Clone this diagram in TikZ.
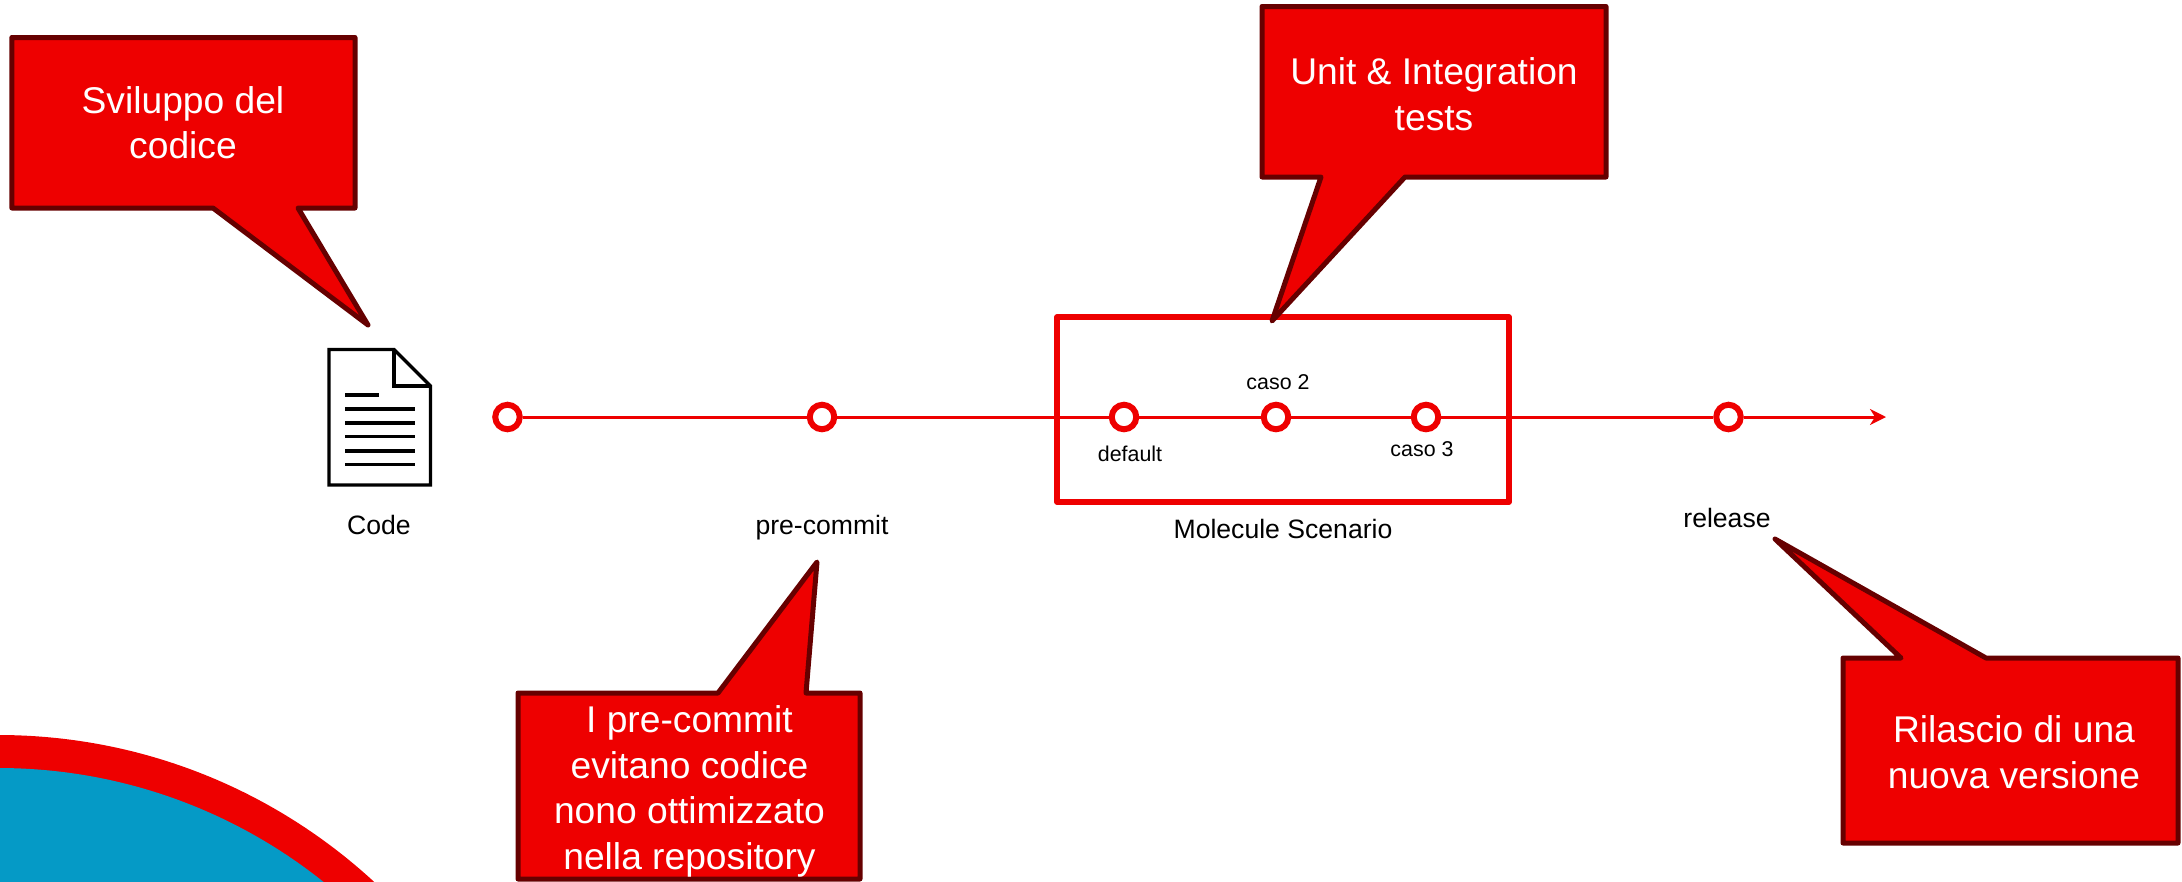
\documentclass[tikz,border=0pt]{standalone}
\usepackage{fontspec}
\setmainfont{Liberation Sans}
\usetikzlibrary{arrows.meta}
\definecolor{tred}{HTML}{EE0000}
\definecolor{tdark}{HTML}{660000}
\definecolor{tblue}{HTML}{059AC6}
\tikzset{
  x=1pt,y=-1pt,
  callout/.style={draw=tdark,fill=tred,line width=5pt,line join=round},
  calltext/.style={text=white,align=center,inner sep=0pt,font=\fontsize{37.2}{45.5}\selectfont},
  lbl/.style={text=black,inner sep=0pt,font=\fontsize{26.6}{30}\selectfont},
  slbl/.style={text=black,inner sep=0pt,font=\fontsize{21.4}{25}\selectfont},
  stage/.style={circle,draw=tred,fill=white,line width=6pt,minimum size=24.5pt,inner sep=0pt},
  tline/.style={draw=tred,line width=3pt},
  docline/.style={draw=black,line width=3.8pt},
  scenario/.style={rectangle,draw=tred,line width=5.2pt,line join=round,minimum width=452pt,minimum height=185pt,inner sep=0pt}
}
\begin{document}
\begin{tikzpicture}
\useasboundingbox (0,0) rectangle (2182,881);
\clip (0,0) rectangle (2182,881);
% decorative circle
\fill[tred] (-2,1290) circle[radius=555];
\fill[tblue] (-2,1290) circle[radius=522];
% document icon
\draw[draw=black,line width=3.4pt,line join=miter] (329,349.5) -- (394,349.5) -- (430.5,386) -- (430.5,485) -- (329,485) -- cycle;
\draw[draw=black,line width=3.4pt] (394,349.5) -- (394,386) -- (430.5,386);
\draw[docline] (345,395) -- (379,395);
\foreach \yy in {409,423,436.5,451,464.5} \draw[docline] (345,\yy) -- (415,\yy);
% scenario box
\node[scenario] (box) at (1283,409.5) {};
% timeline
\node[stage] (s1) at (507.5,417) {};
\node[stage] (s2) at (822,417) {};
\node[stage] (s3) at (1124,417) {};
\node[stage] (s4) at (1276,417) {};
\node[stage] (s5) at (1426,417) {};
\node[stage] (s6) at (1728.5,417) {};
\coordinate (tend) at (1886,417);
\draw[tline] (s1) -- (s2);
\draw[tline] (s2) -- (s3);
\draw[tline] (s3) -- (s4);
\draw[tline] (s4) -- (s5);
\draw[tline] (s5) -- (s6);
\draw[tline,-{Stealth[length=16pt,width=16pt,inset=5pt]}] (s6) -- (tend);
% labels
\node[lbl] (lcode) at (379,525) {Code};
\node[lbl] (lpre) at (822,528) {pre-commit};
\node[lbl] (lmol) at (1283,529) {Molecule Scenario};
\node[lbl] (lrel) at (1727,518) {release};
\node[slbl] (ldef) at (1130,453.5) {default};
\node[slbl] (lc2) at (1278,382.5) {caso 2};
\node[slbl] (lc3) at (1422,449) {caso 3};
% callouts
\draw[callout] (11.8,37.5) -- (355,37.5) -- (355,208) -- (298,208) -- (368,325) -- (213,208) -- (11.8,208) -- cycle;
\node[calltext] (c1) at (183,122.5) {Sviluppo del\\codice};
\draw[callout] (1262,6.5) -- (1606,6.5) -- (1606,177) -- (1405,177) -- (1272,321) -- (1321,177) -- (1262,177) -- cycle;
\node[calltext] (c2) at (1434,94) {Unit \& Integration\\tests};
\draw[callout] (518,693) -- (718,693) -- (817,562) -- (806,693) -- (860,693) -- (860,879) -- (518,879) -- cycle;
\node[calltext] (c3) at (689.5,791.5) {I pre-commit\\evitano codice\\nono ottimizzato\\nella repository};
\draw[callout] (1843,658) -- (1901,658) -- (1775,539) -- (1986,658) -- (2178,658) -- (2178,843) -- (1843,843) -- cycle;
\node[calltext] (c4) at (2014,752) {Rilascio di una\\nuova versione};
\end{tikzpicture}
\end{document}
